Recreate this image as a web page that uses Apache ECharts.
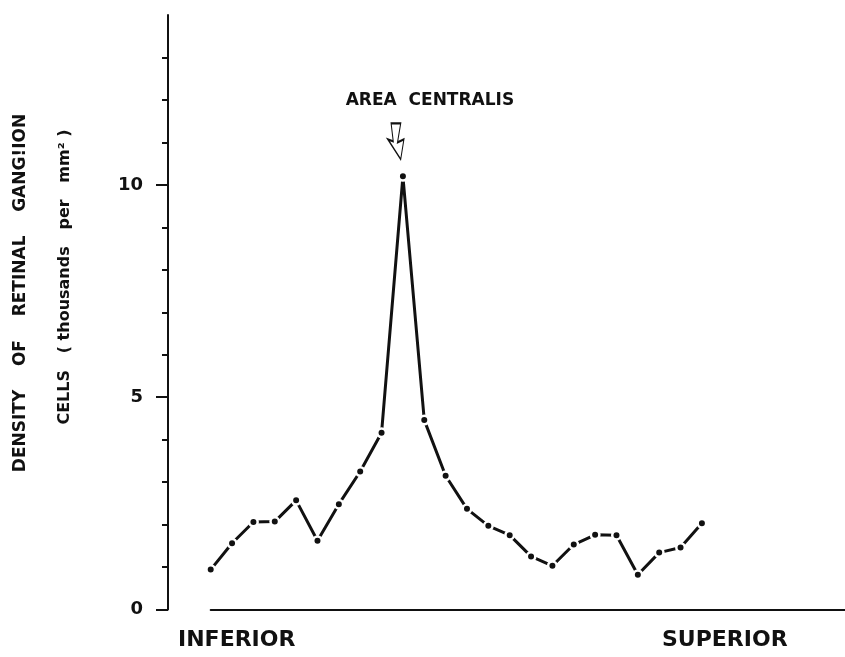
<!DOCTYPE html>
<html>
<head>
<meta charset="utf-8">
<script src="https://cdn.jsdelivr.net/npm/echarts@6/dist/echarts.min.js"></script>
<style>html,body{margin:0;padding:0;background:#fff}#c{width:845px;height:657px}</style>
</head>
<body>
<div id="c"></div>
<script>
// Sample positions (inferior -> superior) and ganglion cell density (thousands per mm^2)
const positions = [0,1,2,3,4,5,6,7,8,9,10,11,12,13,14,15,16,17,18,19,20,21,22,23];
const density = [0.94,1.56,2.06,2.07,2.57,1.62,2.48,3.25,4.16,10.2,4.46,3.15,2.37,1.97,1.75,1.25,1.03,1.53,1.76,1.75,0.82,1.34,1.46,2.03];
const yLabelValues = [0, 5, 10];
const yMinorTicks = [1,2,3,4,6,7,8,9,11,12,13];
const peakIndex = 9;
const annotation = 'AREA  CENTRALIS';
const yTitle1 = 'DENSITY    OF    RETINAL    GANG!ION';
const yTitle2 = 'CELLS   ( thousands   per   mm\u00B2 )';
const leftLabel = 'INFERIOR';
const rightLabel = 'SUPERIOR';

const FONT = 'DejaVu Sans';
const chart = echarts.init(document.getElementById('c'), null, {renderer: 'canvas'});
const pts = positions.map((x, i) => [x, density[i]]);

chart.setOption({
  animation: false,
  backgroundColor: '#fff',
  grid: {left: 210.7, right: 0, top: 15, bottom: 47.5},
  xAxis: {
    type: 'value', min: 0, max: 29.7,
    axisLine: {show: true, onZero: false, lineStyle: {color: '#111', width: 2}},
    axisTick: {show: false}, axisLabel: {show: false}, splitLine: {show: false}
  },
  yAxis: [{
    type: 'value', min: 0, max: 14, interval: 1, position: 'left', offset: 42.7,
    axisLine: {show: true, onZero: false, lineStyle: {color: '#111', width: 2}},
    axisTick: {show: true, length: 6, customValues: yMinorTicks, lineStyle: {color: '#111', width: 2}},
    axisLabel: {customValues: yLabelValues, margin: 25, color: '#111', fontFamily: FONT, fontWeight: 'bold', fontSize: 18},
    splitLine: {show: false}
  }, {
    type: 'value', min: 0, max: 14, interval: 1, position: 'left', offset: 42.7,
    axisLine: {show: false, onZero: false},
    axisTick: {show: true, length: 12, customValues: yLabelValues, lineStyle: {color: '#111', width: 2}},
    axisLabel: {show: false},
    splitLine: {show: false}
  }],
  series: [{
    type: 'line',
    data: pts,
    yAxisIndex: 0,
    symbol: 'circle', symbolSize: 8.5,
    showAllSymbol: true,
    lineStyle: {color: '#111', width: 3},
    itemStyle: {color: '#111', borderColor: '#fff', borderWidth: 2.5},
    z: 3,
    markPoint: {
      silent: true,
      data: [{
        coord: pts[peakIndex],
        symbol: 'path://M4,0 L13,0 L10,19 L16,16 L13,36 L1,16 L6,18 Z',
        symbolSize: [16, 36],
        symbolOffset: [-7, -35],
        itemStyle: {color: '#fff', borderColor: '#111', borderWidth: 1.5},
        label: {show: true, position: 'top', distance: 13, offset: [34, 0], formatter: annotation,
          color: '#111', fontFamily: FONT, fontWeight: 'bold', fontSize: 17}
      }]
    }
  }],
  graphic: [{
    type: 'text', x: 21, y: 293, rotation: Math.PI / 2,
    style: {text: yTitle1, x: 0, y: 0, align: 'center', verticalAlign: 'middle', fill: '#111', font: 'bold 17px "DejaVu Sans"'}
  }, {
    type: 'text', x: 65, y: 277, rotation: Math.PI / 2,
    style: {text: yTitle2, x: 0, y: 0, align: 'center', verticalAlign: 'middle', fill: '#111', font: 'bold 16px "DejaVu Sans"'}
  }, {
    type: 'text', x: 178, y: 640,
    style: {text: leftLabel, align: 'left', verticalAlign: 'middle', fill: '#111', font: 'bold 22px "DejaVu Sans"'}
  }, {
    type: 'text', x: 662, y: 640,
    style: {text: rightLabel, align: 'left', verticalAlign: 'middle', fill: '#111', font: 'bold 22px "DejaVu Sans"'}
  }]
});
</script>
</body>
</html>
